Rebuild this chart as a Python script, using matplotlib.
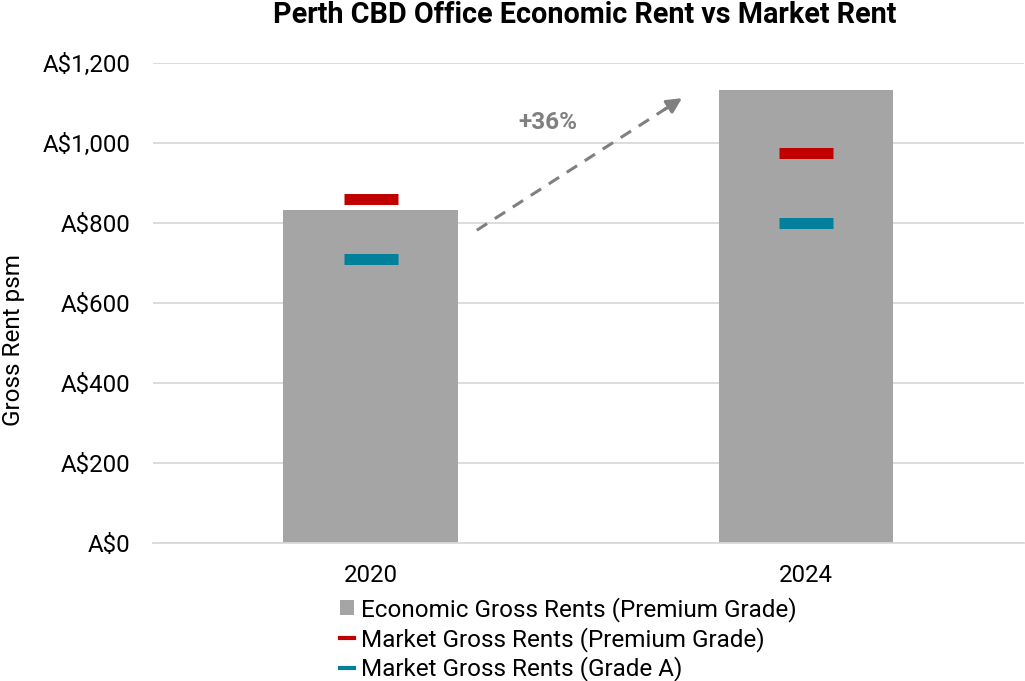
import matplotlib
matplotlib.use("Agg")
import matplotlib.pyplot as plt
from matplotlib.lines import Line2D
from matplotlib.patches import Patch

plt.rcParams['font.family'] = ['Roboto', 'DejaVu Sans']

# data
years = ['2020', '2024']
economic_premium = [832, 1132]
market_premium = [859, 976]
market_grade_a = [711, 799]
growth_label = '+36%'
y_ticks = [0, 200, 400, 600, 800, 1000, 1200]

grey = '#a5a5a5'
red = '#c00000'
teal = '#00809a'
arrow_grey = '#808080'

fig = plt.figure(figsize=(10.25, 6.81), dpi=100)
ax = fig.add_axes([0.149, 0.2026, 0.85, 0.7049])

x = list(range(len(years)))
ax.bar(x, economic_premium, width=0.4, color=grey, zorder=2)
ax.hlines(market_premium, [i - 0.062 for i in x], [i + 0.062 for i in x],
          colors=red, linewidth=7.9, zorder=3)
ax.hlines(market_grade_a, [i - 0.062 for i in x], [i + 0.062 for i in x],
          colors=teal, linewidth=7.9, zorder=3)

ax.set_xlim(-0.5, 1.5)
ax.set_ylim(0, 1200)
ax.set_yticks(y_ticks)
ax.set_yticklabels([f'A${v:,}' for v in y_ticks])
ax.set_xticks(x)
ax.set_xticklabels(years)
ax.tick_params(axis='both', length=0, labelsize=17.3, colors='black')
ax.tick_params(axis='y', pad=16)
ax.tick_params(axis='x', pad=15)
ax.grid(axis='y', color='#d9d9d9', linewidth=1.3, zorder=0)
for s in ['top', 'right', 'left']:
    ax.spines[s].set_visible(False)
ax.spines['bottom'].set_color('#d9d9d9')
ax.spines['bottom'].set_linewidth(1.3)

# growth arrow between bars
x0, y0, x1, y1 = 0.244, 782, 0.715, 1112
ax.plot([x0, x1 - 0.03], [y0, y1 - 21], linestyle=(0, (4, 3)), color=arrow_grey,
        linewidth=2.2, zorder=4)
ax.annotate('', xy=(x1, y1), xytext=(x1 - 0.04, y1 - 28),
            arrowprops=dict(arrowstyle='-|>,head_length=0.9,head_width=0.45',
                            color=arrow_grey, lw=2.2, shrinkA=0, shrinkB=0))
ax.text(0.407, 1050, growth_label, ha='center', va='center', fontsize=17.5,
        fontweight='bold', color=arrow_grey)

fig.text(0.57, 0.978, 'Perth CBD Office Economic Rent vs Market Rent',
         ha='center', va='center', fontsize=20.7, fontweight='bold')
fig.text(0.013, 0.5, 'Gross Rent psm', rotation=90, ha='center', va='center',
         fontsize=17.5)

handles = [Patch(facecolor=grey, edgecolor='none'),
           Line2D([0], [0], color=red, lw=3),
           Line2D([0], [0], color=teal, lw=3)]
labels = ['Economic Gross Rents (Premium Grade)',
          'Market Gross Rents (Premium Grade)',
          'Market Gross Rents (Grade A)']
fig.legend(handles, labels, loc='upper left', bbox_to_anchor=(0.332, 0.1236),
           frameon=False, fontsize=17.5, handlelength=0.55, handleheight=0.55,
           handletextpad=0.3, labelspacing=0.2, borderpad=0, borderaxespad=0)

fig.savefig('out.png', dpi=100)
